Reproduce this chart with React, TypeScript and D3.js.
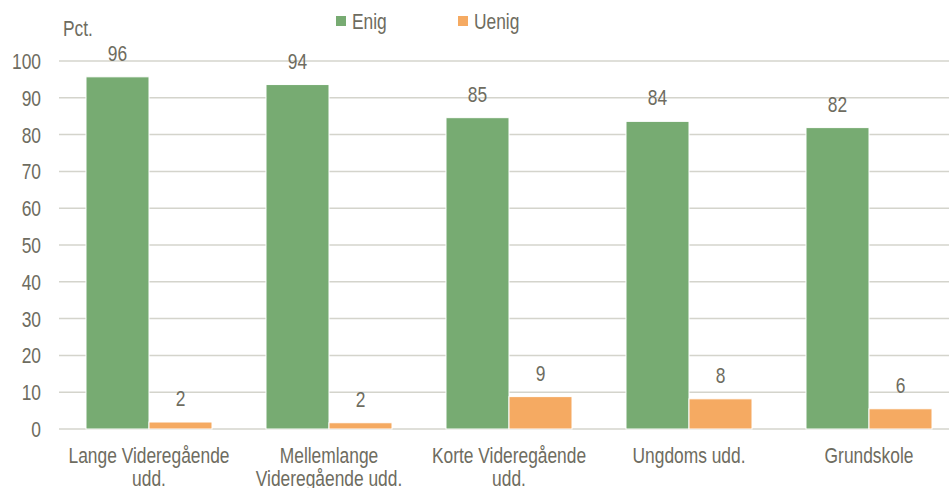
import React from "react";
import * as d3 from "d3";

const categories = [
  ["Lange Videregående", "udd."],
  ["Mellemlange", "Videregående udd."],
  ["Korte Videregående", "udd."],
  ["Ungdoms udd."],
  ["Grundskole"],
];
const enig = [95.7, 93.6, 84.6, 83.6, 81.9];
const uenig = [1.9, 1.7, 8.8, 8.2, 5.5];
const enigLabels = ["96", "94", "85", "84", "82"];
const uenigLabels = ["2", "2", "9", "8", "6"];
const yTicks = [0, 10, 20, 30, 40, 50, 60, 70, 80, 90, 100];
const seriesNames = ["Enig", "Uenig"];

const W = 949;
const H = 488;
const FONT = "'Liberation Sans', Arial, sans-serif";
const TEXT = "#6e6c60";
const GREEN = "#77ab72";
const ORANGE = "#f5aa62";
const GRID = "#d4d4cc";
const FS = 22;
const SX = 0.79;

function T({ x, y, anchor = "start", children }: { x: number; y: number; anchor?: string; children: React.ReactNode }) {
  return (
    <text
      transform={`translate(${x},${y}) scale(${SX},1)`}
      textAnchor={anchor as any}
      fontSize={FS}
      fill={TEXT}
      fontFamily={FONT}
    >
      {children}
    </text>
  );
}

export default function App() {
  const plotLeft = 59;
  const gridRight = 949;
  const y = d3.scaleLinear().domain([0, 100]).range([429, 61]);
  const x0 = d3
    .scaleBand<number>()
    .domain(d3.range(categories.length))
    .range([plotLeft, plotLeft + 900])
    .paddingInner(0.3)
    .paddingOuter(0.15);
  const x1 = d3.scaleBand<number>().domain([0, 1]).range([0, x0.bandwidth()]);
  const series = [enig, uenig];
  const labels = [enigLabels, uenigLabels];
  const colors = [GREEN, ORANGE];

  return (
    <svg
      width={W}
      height={H}
      style={{ position: "absolute", left: 0, top: 0, background: "#fff" }}
    >
      {yTicks.map((t) => (
        <g key={t}>
          <line x1={plotLeft} x2={gridRight} y1={y(t)} y2={y(t)} stroke={GRID} strokeWidth={1.5} />
          <T x={41} y={y(t) + 8} anchor="end">
            {t}
          </T>
        </g>
      ))}
      <T x={63} y={36}>Pct.</T>
      {series.map((vals, si) =>
        vals.map((v, i) => {
          const bx = (x0(i) as number) + (x1(si) as number);
          return (
            <g key={`${si}-${i}`}>
              <rect
                x={bx}
                y={y(v)}
                width={x1.bandwidth()}
                height={y(0) - y(v)}
                fill={colors[si]}
                stroke="#fff"
                strokeWidth={1}
              />
              <T x={bx + x1.bandwidth() / 2} y={y(v) - 16} anchor="middle">
                {labels[si][i]}
              </T>
            </g>
          );
        })
      )}
      {categories.map((lines, i) =>
        lines.map((l, j) => (
          <T key={`${i}-${j}`} x={(x0(i) as number) + x0.bandwidth() / 2} y={463 + j * 23} anchor="middle">
            {l}
          </T>
        ))
      )}
      {seriesNames.map((n, i) => (
        <g key={n}>
          <rect x={336 + i * 122} y={16} width={10} height={10} fill={colors[i]} />
          <T x={352 + i * 122} y={29}>
            {n}
          </T>
        </g>
      ))}
    </svg>
  );
}
